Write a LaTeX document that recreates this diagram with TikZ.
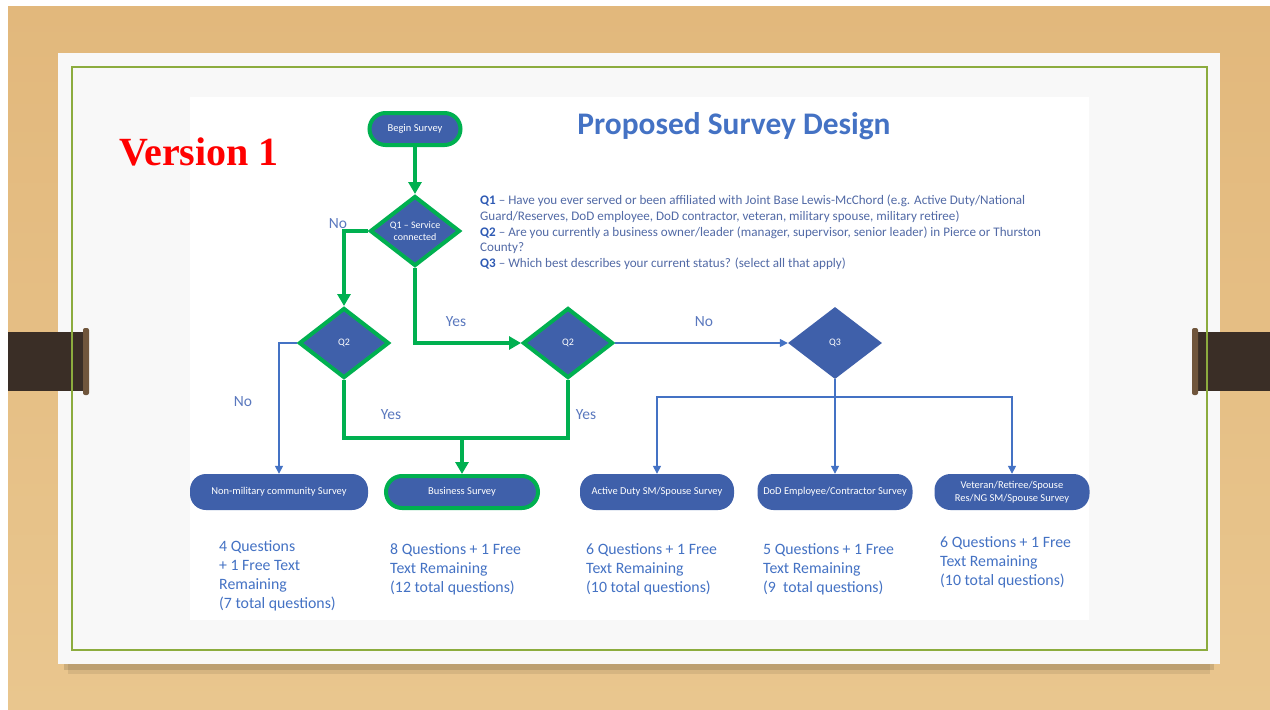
\documentclass[tikz,border=0pt]{standalone}
\usepackage{fontspec}
\setmainfont{Carlito}
\newfontfamily\versionfont{Liberation Serif}
\usetikzlibrary{shapes.geometric,arrows.meta,positioning}

\definecolor{woodtop}{RGB}{226,184,124}
\definecolor{woodbot}{RGB}{233,198,142}
\definecolor{slidegrey}{RGB}{248,248,248}
\definecolor{frameolive}{RGB}{140,172,62}
\definecolor{clipbrown}{RGB}{58,46,38}
\definecolor{capbrown}{RGB}{112,86,60}
\definecolor{shapeblue}{RGB}{63,96,170}
\definecolor{flowgreen}{RGB}{0,176,80}
\definecolor{linkblue}{RGB}{68,114,196}
\definecolor{titleblue}{RGB}{68,114,196}
\definecolor{answerblue}{RGB}{90,120,190}
\definecolor{noteblue}{RGB}{82,106,166}
\definecolor{qblue}{RGB}{46,90,180}

\tikzstyle{every node}=[font=\fontsize{10}{12}\selectfont]
\tikzstyle{gline}=[line width=4pt, draw=flowgreen]
\tikzstyle{garrow}=[gline, -{Triangle[length=12pt,width=13pt]}]
\tikzstyle{barrow}=[line width=1.4pt, draw=linkblue, -{Triangle[length=8pt,width=8pt]}]
\tikzstyle{terminal}=[fill=shapeblue, rounded corners=16pt, minimum height=36pt, text=white, inner sep=0pt, align=center, font=\fontsize{10.5}{13}\selectfont]
\tikzstyle{gterminal}=[terminal, draw=flowgreen, line width=4pt, minimum height=32pt]
\tikzstyle{decision}=[diamond, fill=shapeblue, text=white, inner sep=0pt, aspect=1.3, minimum width=94pt, minimum height=72pt, align=center, font=\fontsize{10}{12.5}\selectfont]
\tikzstyle{gdecision}=[decision, draw=flowgreen, line width=4pt, minimum width=90pt, minimum height=70pt]
\tikzstyle{answer}=[text=answerblue, font=\fontsize{15.5}{18}\selectfont]
\tikzstyle{tally}=[text=linkblue, anchor=north west, align=left, inner sep=0pt, font=\fontsize{15.8}{19}\selectfont]

\begin{document}
\begin{tikzpicture}[x=1pt,y=-1pt]
            \useasboundingbox (0,0) rectangle (1270,710);

            % wood desk and slide
            \fill[white] (0,0) rectangle (1270,710);
            \shade[top color=woodtop, bottom color=woodbot] (8,6) rectangle (1270,710);
            \fill[black, opacity=0.12] (64,66) rectangle (1214,670);
            \fill[black, opacity=0.08] (68,70) rectangle (1210,674);
            \fill[slidegrey] (58,53) rectangle (1220,664);
            \fill[white] (190,97) rectangle (1089,620);

            % binder clips
            \fill[clipbrown] (8,332) rectangle (85,391);
            \fill[capbrown, rounded corners=2pt] (83,328) rectangle (89,395);
            \fill[clipbrown] (1196,332) rectangle (1270,391);
            \fill[capbrown, rounded corners=2pt] (1192,328) rectangle (1198,395);

            % slide frame
            \draw[frameolive, line width=1.5pt] (72,67) rectangle (1207,650);

            % titles
            \node[text=red, font=\versionfont\bfseries\fontsize{40}{44}\selectfont] (version) at (199,152) {Version 1};
            \node[text=titleblue, font=\bfseries\fontsize{31.4}{36}\selectfont] (title) at (734,126) {Proposed Survey Design};

            % question notes
            \node[text=noteblue, anchor=north west, align=left, inner sep=0pt, font=\fontsize{13.1}{15.7}\selectfont] (notes) at (480,195)
                {\textcolor{qblue}{\textbf{Q1}} -- Have you ever served or been affiliated with Joint Base Lewis-McChord (e.g. Active Duty/National\\
                 Guard/Reserves, DoD employee, DoD contractor, veteran, military spouse, military retiree)\\
                 \textcolor{qblue}{\textbf{Q2}} -- Are you currently a business owner/leader (manager, supervisor, senior leader) in Pierce or Thurston\\
                 County?\\
                 \textcolor{qblue}{\textbf{Q3}} -- Which best describes your current status? (select all that apply)};

            % flow shapes
            \node[gterminal, minimum width=91pt] (begin) at (415,129) {Begin Survey};
            \node[gdecision] (q1) at (415,231) {Q1 -- Service\\connected};
            \node[gdecision] (q2a) at (344,343) {Q2};
            \node[gdecision] (q2b) at (568,343) {Q2};
            \node[decision] (q3) at (835,343) {Q3};

            \node[terminal, minimum width=178pt] (nonmil) at (279,492) {Non-military community Survey};
            \node[gterminal, minimum width=152pt] (business) at (462,492) {Business Survey};
            \node[terminal, minimum width=154pt] (active) at (657,492) {Active Duty SM/Spouse Survey};
            \node[terminal, minimum width=155pt] (dod) at (835,492) {DoD Employee/Contractor Survey};
            \node[terminal, minimum width=155pt] (veteran) at (1012,492) {Veteran/Retiree/Spouse\\Res/NG SM/Spouse Survey};

            % green path
            \draw[garrow] (begin) -- (q1);
            \draw[garrow] (q1.west) -| (q2a.north);
            \draw[garrow] (q1.south) |- (q2b.west);
            \coordinate (join) at (462,438);
            \draw[gline] (q2a.south) |- (join) -| (q2b.south);
            \draw[garrow] (join) -- (business.north);

            % blue path
            \draw[barrow] (q2a.west) -| (nonmil.north);
            \draw[barrow] (q2b.east) -- (q3.west);
            \coordinate (split) at (835,397);
            \draw[barrow] (q3.south) -- (dod.north);
            \draw[barrow] (split) -| (active.north);
            \draw[barrow] (split) -| (veteran.north);

            % answers
            \node[answer] (noq1) at (338,224) {No};
            \node[answer] (yesq1) at (456,322) {Yes};
            \node[answer] (noq2a) at (243,402) {No};
            \node[answer] (yesq2a) at (391,415) {Yes};
            \node[answer] (yesq2b) at (586,415) {Yes};
            \node[answer] (noq2b) at (704,322) {No};

            % question counts
            \node[tally] (cnonmil) at (219,540) {4 Questions\\+ 1 Free Text\\Remaining\\(7 total questions)};
            \node[tally] (cbusiness) at (390,543) {8 Questions + 1 Free\\Text Remaining\\(12 total questions)};
            \node[tally] (cactive) at (586,543) {6 Questions + 1 Free\\Text Remaining\\(10 total questions)};
            \node[tally] (cdod) at (763,543) {5 Questions + 1 Free\\Text Remaining\\(9\ \ total questions)};
            \node[tally] (cveteran) at (940,536) {6 Questions + 1 Free\\Text Remaining\\(10 total questions)};
        \end{tikzpicture}
\end{document}
